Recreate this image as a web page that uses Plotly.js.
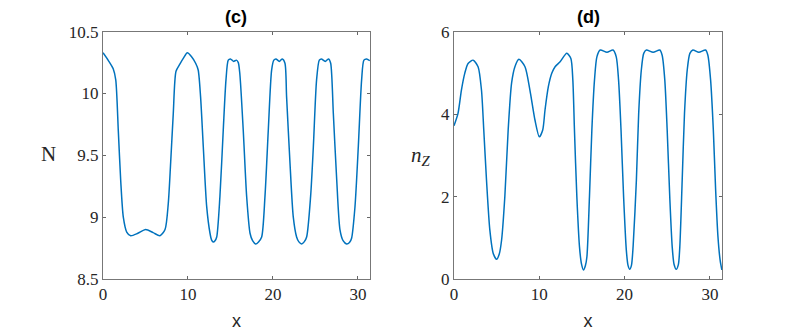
<!DOCTYPE html>
<html>
<head>
<meta charset="utf-8">
<script src="https://cdn.plot.ly/plotly-3.0.1.min.js"></script>
<style>
  body { margin: 0; background: #fff; }
  #chart { width: 797px; height: 333px; }
</style>
</head>
<body>
<div id="chart"></div>
<script>
// panel (c) : N(x)
var xN = [0, 0.6, 1.2, 1.5, 1.8, 2.08, 2.39, 2.79, 3.26, 4.1, 5.02, 5.9, 6.7, 7.3, 7.68, 7.96, 8.27, 8.59, 9.06, 9.5, 9.92, 10.4, 10.9, 11.2, 11.48, 11.8, 12.2, 12.59, 12.78, 12.98, 13.18, 13.38, 13.76, 14.15, 14.47, 14.74, 15.0, 15.35, 15.7, 15.92, 16.1, 16.5, 16.9, 17.3, 17.6, 17.96, 18.3, 18.67, 19.06, 19.45, 19.84, 20.1, 20.35, 20.75, 21.1, 21.41, 21.6, 22.0, 22.39, 22.78, 23.05, 23.37, 23.67, 23.96, 24.43, 24.75, 25.13, 25.45, 25.7, 26.15, 26.55, 26.79, 27.1, 27.5, 27.88, 28.25, 28.67, 29.0, 29.25, 29.65, 30.04, 30.43, 30.7, 31.02, 31.4];
var yN = [10.33, 10.27, 10.2, 10.11, 9.7, 9.3, 9.0, 8.88, 8.85, 8.87, 8.9, 8.875, 8.85, 8.9, 9.11, 9.44, 9.84, 10.18, 10.24, 10.29, 10.33, 10.3, 10.245, 10.19, 9.975, 9.57, 9.085, 8.87, 8.815, 8.8, 8.81, 8.84, 9.17, 9.705, 10.11, 10.27, 10.28, 10.26, 10.27, 10.25, 10.16, 9.705, 9.17, 8.87, 8.81, 8.783, 8.8, 8.84, 9.17, 9.705, 10.19, 10.27, 10.28, 10.26, 10.28, 10.245, 9.975, 9.44, 9.0, 8.84, 8.8, 8.783, 8.8, 8.84, 9.17, 9.57, 10.11, 10.27, 10.28, 10.26, 10.28, 10.245, 9.84, 9.3, 8.9, 8.81, 8.783, 8.795, 8.83, 9.085, 9.57, 10.11, 10.27, 10.28, 10.265];

// panel (d) : n_Z(x)
var xZ = [0, 0.47, 0.87, 1.26, 1.65, 2.24, 2.82, 3.22, 3.49, 3.81, 4.2, 4.6, 4.99, 5.3, 5.58, 5.96, 6.35, 6.75, 7.14, 7.61, 8.32, 8.9, 9.49, 10.0, 10.4, 10.67, 11.06, 11.46, 11.85, 12.44, 13.22, 13.7, 13.93, 14.12, 14.4, 14.71, 14.95, 15.18, 15.4, 15.58, 15.88, 16.16, 16.47, 16.75, 17.14, 17.93, 18.64, 19.02, 19.29, 19.58, 19.88, 20.2, 20.4, 20.6, 20.8, 21.0, 21.38, 21.65, 21.96, 22.24, 22.55, 23.34, 24.12, 24.4, 24.71, 24.99, 25.29, 25.58, 25.8, 26.05, 26.3, 26.47, 26.75, 27.02, 27.34, 27.65, 28.0, 28.7, 29.49, 29.76, 30.08, 30.4, 30.67, 30.94, 31.2, 31.4];
var yZ = [3.72, 4.02, 4.585, 4.99, 5.23, 5.31, 5.15, 4.585, 3.615, 2.4, 1.19, 0.62, 0.478, 0.6, 0.946, 2.0, 3.615, 4.75, 5.15, 5.33, 5.15, 4.585, 3.857, 3.45, 3.615, 4.1, 4.665, 4.99, 5.15, 5.27, 5.475, 5.35, 4.83, 3.615, 2.0, 0.78, 0.36, 0.218, 0.32, 0.54, 2.0, 3.615, 4.83, 5.39, 5.555, 5.5, 5.555, 5.39, 4.83, 3.615, 2.0, 0.7, 0.33, 0.235, 0.33, 0.8, 2.4, 4.02, 5.07, 5.475, 5.555, 5.5, 5.555, 5.43, 4.83, 3.615, 2.0, 0.78, 0.35, 0.235, 0.35, 0.78, 2.4, 4.02, 5.07, 5.475, 5.555, 5.5, 5.555, 5.43, 4.83, 3.615, 2.16, 1.03, 0.45, 0.22];

var xTicks = [0, 10, 20, 30];
var nTicks = [8.5, 9, 9.5, 10, 10.5];
var nTickText = ['8.5', '9', '9.5', '10', '10.5'];
var zTicks = [0, 2, 4, 6];

var blue = '#0072BD';
var serif = 'Liberation Serif, Times New Roman, serif';
var sans = 'Liberation Sans, Arial, sans-serif';

var data = [
  { x: xN, y: yN, xaxis: 'x', yaxis: 'y', type: 'scatter', mode: 'lines',
    line: { color: blue, width: 1.5, shape: 'spline', smoothing: 0.7 }, hoverinfo: 'skip' },
  { x: xZ, y: yZ, xaxis: 'x2', yaxis: 'y2', type: 'scatter', mode: 'lines',
    line: { color: blue, width: 1.5, shape: 'spline', smoothing: 0.7 }, hoverinfo: 'skip' }
];

function xax(dom, anchor) {
  return {
    domain: dom, anchor: anchor, range: [0, 31.416],
    tickvals: xTicks, ticks: 'inside', ticklen: 3, tickcolor: '#666',
    showline: true, linecolor: '#777', linewidth: 1, mirror: 'ticks',
    showgrid: false, zeroline: false,
    tickfont: { family: serif, size: 17, color: '#262626' },
    title: { text: 'x', font: { family: sans, size: 18, color: '#262626' }, standoff: 10 }
  };
}
function yax(dom, anchor, range, vals, text) {
  return {
    domain: dom, anchor: anchor, range: range,
    tickvals: vals, ticktext: text, ticks: 'inside', ticklen: 3, tickcolor: '#666',
    showline: true, linecolor: '#777', linewidth: 1, mirror: 'ticks',
    showgrid: false, zeroline: false,
    tickfont: { family: serif, size: 17, color: '#262626' }
  };
}

var yDom = [1 - 279 / 333, 1 - 31.7 / 333];

function label(text, px, py, font) {
  return { text: text, xref: 'paper', yref: 'paper', x: px / 797, y: 1 - py / 333,
    xanchor: 'center', yanchor: 'middle', showarrow: false, font: font };
}

var layout = {
  width: 797, height: 333,
  margin: { l: 0, r: 0, t: 0, b: 0 },
  paper_bgcolor: '#fff', plot_bgcolor: '#fff',
  showlegend: false,
  xaxis: xax([103 / 797, 370 / 797], 'y'),
  yaxis: yax(yDom, 'x', [8.5, 10.5], nTicks, nTickText),
  xaxis2: xax([454 / 797, 722 / 797], 'y2'),
  yaxis2: yax(yDom, 'x2', [0, 6], zTicks, zTicks.map(String)),
  annotations: [
    label('<b>(c)</b>', 236.5, 17, { family: sans, size: 18, color: '#000' }),
    label('<b>(d)</b>', 588, 17, { family: sans, size: 18, color: '#000' }),
    label('N', 48, 154, { family: serif, size: 21, color: '#262626' }),
    label('<i>n</i><sub><i>Z</i></sub>', 421, 156, { family: serif, size: 21, color: '#262626' })
  ]
};

Plotly.newPlot('chart', data, layout, { displayModeBar: false, staticPlot: true });
</script>
</body>
</html>
